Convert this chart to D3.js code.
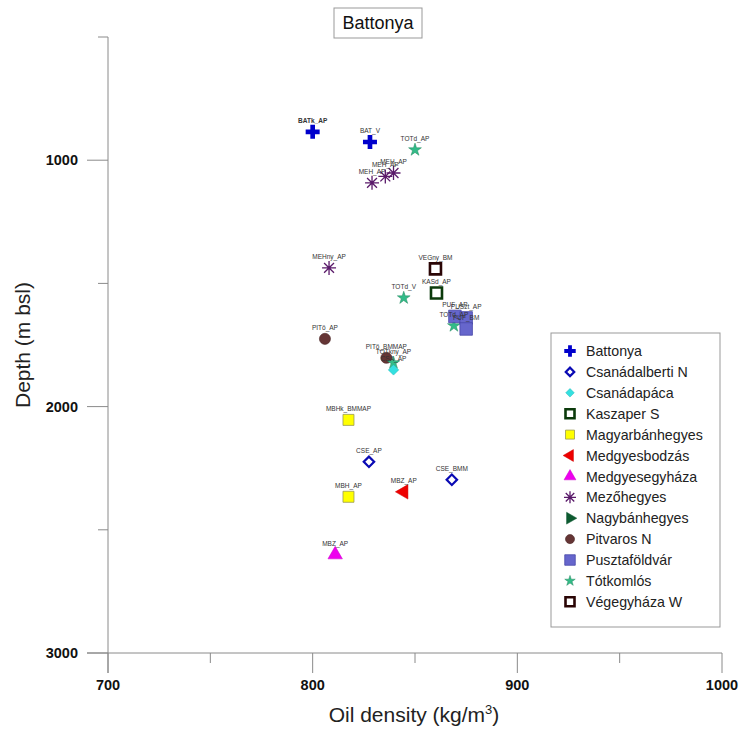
<!DOCTYPE html>
<html>
<head>
<meta charset="utf-8">
<script src="https://cdn.jsdelivr.net/npm/d3@7"></script>
<style>
  body { margin: 0; background: #fff; }
  text { font-family: "Liberation Sans", Arial, sans-serif; }
</style>
</head>
<body>
<div id="chart"></div>
<script>
// mezok (legend)
const fields = ["Battonya", "Csanádalberti N", "Csanádapáca", "Kaszaper S", "Magyarbánhegyes",
  "Medgyesbodzás", "Medgyesegyháza", "Mezőhegyes", "Nagybánhegyes", "Pitvaros N",
  "Pusztaföldvár", "Tótkomlós", "Végegyháza W"];

// pontok
const pointField = ["Battonya", "Battonya", "Tótkomlós", "Mezőhegyes", "Mezőhegyes", "Mezőhegyes",
  "Mezőhegyes", "Végegyháza W", "Kaszaper S", "Tótkomlós", "Tótkomlós", "Pusztaföldvár",
  "Pusztaföldvár", "Pusztaföldvár", "Pitvaros N", "Pitvaros N", "Tótkomlós", "Csanádapáca",
  "Magyarbánhegyes", "Csanádalberti N", "Csanádalberti N", "Medgyesbodzás", "Magyarbánhegyes",
  "Medgyesegyháza"];
const pointLabel = ["BATk_AP", "BAT_V", "TOTd_AP", "MEH_AP", "MEH_AP", "MEH_AP",
  "MEHny_AP", "VEGny_BM", "KASd_AP", "TOTd_V", "TOTd_AP", "PUF_AP",
  "PUSzt_AP", "PUF_BM", "PITö_AP", "PITö_BMMAP", "TOTkny_AP", "CSA_AP",
  "MBHk_BMMAP", "CSE_AP", "CSE_BMM", "MBZ_AP", "MBH_AP", "MBZ_AP"];
const pointDensity = [800, 828, 850, 829, 835.5, 839.5,
  808, 860, 860.5, 844.5, 869, 869.5,
  875, 875, 806, 836, 839.5, 839.5,
  817.5, 827.5, 868, 844.5, 817.5, 811];
const pointDepth = [885, 926, 958, 1092, 1066, 1052,
  1437, 1441, 1539, 1559, 1672, 1634,
  1640, 1685, 1725, 1802, 1822, 1851,
  2054, 2224, 2297, 2346, 2366, 2601];

const xTicks = [700, 800, 900, 1000];
const xMinor = [750, 850, 950];
const yTicks = [1000, 2000, 3000];
const yMinor = [500, 1500, 2500];

const W = 743, H = 732;
const svg = d3.select("#chart").append("svg").attr("width", W).attr("height", H);

const x = d3.scaleLinear().domain([700, 1000]).range([108, 722]);
const y = d3.scaleLinear().domain([500, 3000]).range([37, 653]);

// csillag alaku jel (8 aga)
function asterisk(r) {
  let p = "";
  for (let i = 0; i < 4; i++) {
    const a = i * Math.PI / 4;
    const dx = r * Math.cos(a), dy = r * Math.sin(a);
    p += `M${-dx},${-dy}L${dx},${dy}`;
  }
  return p;
}

// stilusok mezonkent
const styles = {
  "Battonya":        { type: "cross", fill: "#0000cc", stroke: "none", sw: 0 },
  "Csanádalberti N": { type: "diamond", fill: "#fff", stroke: "#0a0ab4", sw: 2.2 },
  "Csanádapáca":     { type: "diamond", fill: "#33e0e0", stroke: "#22bbbb", sw: 0.5 },
  "Kaszaper S":      { type: "square", fill: "#fff", stroke: "#0b3a0b", sw: 2.6 },
  "Magyarbánhegyes": { type: "square", fill: "#ffff00", stroke: "#999955", sw: 0.8 },
  "Medgyesbodzás":   { type: "triLeft", fill: "#ee0000", stroke: "#cc0000", sw: 0.5 },
  "Medgyesegyháza":  { type: "triUp", fill: "#ee00ee", stroke: "#cc00cc", sw: 0.5 },
  "Mezőhegyes":      { type: "asterisk", fill: "none", stroke: "#5a1a6a", sw: 1.3 },
  "Nagybánhegyes":   { type: "triRight", fill: "#0d5a30", stroke: "#0d5a30", sw: 0.5 },
  "Pitvaros N":      { type: "circle", fill: "#653535", stroke: "#4a2525", sw: 0.6 },
  "Pusztaföldvár":   { type: "square", fill: "#6666cc", stroke: "#4848a8", sw: 0.8 },
  "Tótkomlós":       { type: "star", fill: "#33bb88", stroke: "#22885f", sw: 0.5 },
  "Végegyháza W":    { type: "square", fill: "#fff", stroke: "#2a0505", sw: 2.6 }
};

function markerPath(type, s) {
  switch (type) {
    case "cross": return d3.symbol(d3.symbolCross, s * s * 0.9)();
    case "diamond": return d3.symbol(d3.symbolSquare, s * s * 0.45)();
    case "square": return d3.symbol(d3.symbolSquare, s * s)();
    case "triLeft":
    case "triRight":
    case "triUp": return d3.symbol(d3.symbolTriangle, s * s * 0.75)();
    case "circle": return d3.symbol(d3.symbolCircle, s * s * 0.8)();
    case "star": return d3.symbol(d3.symbolStar, s * s * 0.42)();
    case "asterisk": return asterisk(s / 2 + 1.5);
  }
}
function markerRot(type) {
  if (type === "diamond") return 45;
  if (type === "triLeft") return -90;
  if (type === "triRight") return 90;
  return 0;
}

function drawMarker(g, field, cx, cy, s) {
  const st = styles[field];
  const size = st.type === "square" && field === "Pusztaföldvár" ? s + 1.5 : s;
  g.append("path")
    .attr("d", markerPath(st.type, size))
    .attr("transform", `translate(${cx},${cy}) rotate(${markerRot(st.type)})`)
    .attr("fill", st.fill)
    .attr("stroke", st.stroke)
    .attr("stroke-width", st.sw);
}

// tengelyek
const axisColor = "#8a8a8a";
const ax = svg.append("g").attr("stroke", axisColor).attr("stroke-width", 1);
ax.append("line").attr("x1", x(700)).attr("x2", x(700)).attr("y1", y(500)).attr("y2", y(3000) + 20);
ax.append("line").attr("x1", x(700) - 21).attr("x2", x(1000)).attr("y1", y(3000)).attr("y2", y(3000));
ax.selectAll(".xt").data(xTicks).enter().append("line")
  .attr("x1", d => x(d)).attr("x2", d => x(d)).attr("y1", y(3000)).attr("y2", y(3000) + 20);
ax.selectAll(".xm").data(xMinor).enter().append("line")
  .attr("x1", d => x(d)).attr("x2", d => x(d)).attr("y1", y(3000)).attr("y2", y(3000) + 10);
ax.selectAll(".yt").data(yTicks).enter().append("line")
  .attr("x1", x(700) - 21).attr("x2", x(700)).attr("y1", d => y(d)).attr("y2", d => y(d));
ax.selectAll(".ym").data(yMinor).enter().append("line")
  .attr("x1", x(700) - 10).attr("x2", x(700)).attr("y1", d => y(d)).attr("y2", d => y(d));

svg.selectAll(".xl").data(xTicks).enter().append("text")
  .attr("x", d => x(d)).attr("y", 690)
  .attr("text-anchor", "middle")
  .style("font-size", "14.5px").style("font-weight", "bold").style("fill", "#111")
  .text(d => d);
svg.selectAll(".yl").data(yTicks).enter().append("text")
  .attr("x", 78).attr("y", d => y(d)).attr("dy", "0.36em")
  .attr("text-anchor", "end")
  .style("font-size", "14.5px").style("font-weight", "bold").style("fill", "#111")
  .text(d => d);

// tengelycimek
const xt = svg.append("text").attr("x", 414).attr("y", 722).attr("text-anchor", "middle")
  .style("font-size", "21px").style("fill", "#222");
xt.append("tspan").text("Oil density (kg/m");
xt.append("tspan").attr("dy", -8).style("font-size", "13px").text("3");
xt.append("tspan").attr("dy", 8).text(")");

svg.append("text")
  .attr("transform", "translate(30,345) rotate(-90)")
  .attr("text-anchor", "middle")
  .style("font-size", "21px").style("fill", "#222")
  .text("Depth (m bsl)");

// cim
svg.append("rect").attr("x", 334).attr("y", 8).attr("width", 88).attr("height", 30)
  .attr("fill", "#fff").attr("stroke", "#999").attr("stroke-width", 1);
svg.append("text").attr("x", 378).attr("y", 29).attr("text-anchor", "middle")
  .style("font-size", "18px").style("fill", "#111").text("Battonya");

// pontok
const pts = svg.append("g");
pointField.forEach((f, i) => {
  drawMarker(pts, f, x(pointDensity[i]), y(pointDepth[i]), 11);
});
svg.selectAll(".lab").data(pointLabel).enter().append("text")
  .attr("x", (d, i) => x(pointDensity[i]))
  .attr("y", (d, i) => y(pointDepth[i]) - 9)
  .attr("text-anchor", "middle")
  .style("font-size", "6.5px").style("fill", "#333")
  .style("font-weight", (d, i) => i === 0 ? "bold" : "normal")
  .text(d => d);

// jelmagyarazat
const leg = svg.append("g");
leg.append("rect").attr("x", 551).attr("y", 333).attr("width", 169).attr("height", 294)
  .attr("fill", "#fff").attr("stroke", "#999").attr("stroke-width", 1);
fields.forEach((f, i) => {
  const ly = 351 + i * 20.9;
  drawMarker(leg, f, 570, ly, 9);
  leg.append("text").attr("x", 586).attr("y", ly).attr("dy", "0.36em")
    .style("font-size", "14.2px").style("fill", "#222").text(f);
});
</script>
</body>
</html>
